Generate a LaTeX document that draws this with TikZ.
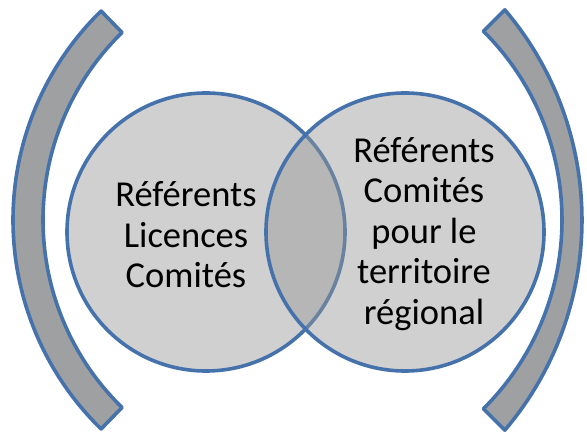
\documentclass[tikz,border=0pt]{standalone}
\usepackage{fontspec}
\setmainfont{Carlito}
\definecolor{vennblue}{RGB}{70,114,172}
\definecolor{venngray}{RGB}{150,150,150}
\definecolor{bracketgray}{RGB}{158,160,162}

\begin{document}
\begin{tikzpicture}[x=1pt, y=1pt,
        venn/.style={circle, minimum size=278pt, inner sep=0pt, draw=vennblue,
            line width=3.6pt, fill=venngray, fill opacity=0.45},
        bracket/.style={draw=vennblue, line width=3.6pt, fill=bracketgray, line join=round},
        venntext/.style={align=center, font=\fontsize{36.5}{40.5}\selectfont}]
            \useasboundingbox (0,0) rectangle (587,433);

            % centres of the arcs
            \coordinate (lc) at (305,213);
            \coordinate (rco) at (257,213);
            \coordinate (rci) at (296,213);

            \draw [bracket] ([shift={(134.3:292)}]lc) arc[start angle=134.3, end angle=225.7, radius=292]
                -- ([shift={(225.7:262)}]lc) arc[start angle=225.7, end angle=134.3, radius=262] -- cycle;
            \draw [bracket] ([shift={(40.3:325)}]rco) arc[start angle=40.3, end angle=-40.3, radius=325]
                -- ([shift={(-45.2:266)}]rci) arc[start angle=-45.2, end angle=45.2, radius=266] -- cycle;

            \node [venn] (licences) at (206,201) {};
            \node [venn] (territoire) at (405,201) {};

            \node [venntext] (licencestext) at (186,198) {Référents\\Licences\\Comités};
            \node [venntext] (territoiretext) at (424,199) {Référents\\Comités\\pour le\\territoire\\régional};

        \end{tikzpicture}
\end{document}
